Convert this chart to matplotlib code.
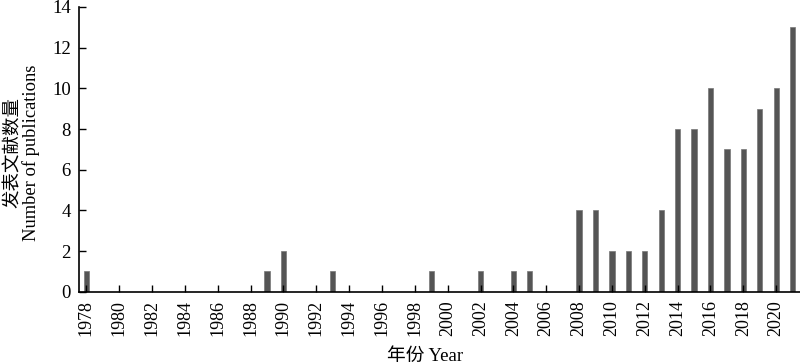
import numpy as np
import matplotlib
matplotlib.use("Agg")
import matplotlib.pyplot as plt

plt.rcParams["font.family"] = ["Liberation Serif", "Noto Sans CJK SC"]

years = [1978, 1989, 1990, 1993, 1999, 2002, 2004, 2005, 2008, 2009, 2010,
         2011, 2012, 2013, 2014, 2015, 2016, 2017, 2018, 2019, 2020, 2021]
counts = [1, 1, 2, 1, 1, 1, 1, 1, 4, 4, 2,
          2, 2, 4, 8, 8, 10, 7, 7, 9, 10, 13]
tick_years = list(range(1978, 2021, 2))
y_ticks = list(range(0, 15, 2))

fig = plt.figure(figsize=(8, 3.63), dpi=100)
ax = fig.add_axes([0.099, 0.196, 0.901, 0.785])

ax.bar(years, counts, width=0.32, color="#555555", edgecolor="#777777", linewidth=0.5)

ax.set_xlim(1977.57, 2021.45)
ax.set_ylim(0, 14)
ax.set_xticks(tick_years)
ax.set_xticklabels([str(y) for y in tick_years], rotation=90, fontsize=13)
ax.set_yticks(y_ticks)
ax.set_yticklabels([str(v) for v in y_ticks], fontsize=13.5)
ax.tick_params(direction="in", length=5, width=1, colors="black")
ax.tick_params(axis="x", pad=6)
ax.tick_params(axis="y", pad=6)

for side in ["top", "right"]:
    ax.spines[side].set_visible(False)
for side in ["left", "bottom"]:
    ax.spines[side].set_linewidth(1.2)

# axis titles placed where they sit in the original
fig.text(425 / 800, 1 - 356 / 363, "年份 Year", fontsize=13.5, ha="center", va="center")
fig.text(13 / 800, 1 - 152 / 363, "发表文献数量", fontsize=13.3, rotation=90,
         ha="center", va="center")
fig.text(31 / 800, 1 - 153 / 363, "Number of publications", fontsize=13.3, rotation=90,
         ha="center", va="center")

fig.savefig("out.png", dpi=100)
